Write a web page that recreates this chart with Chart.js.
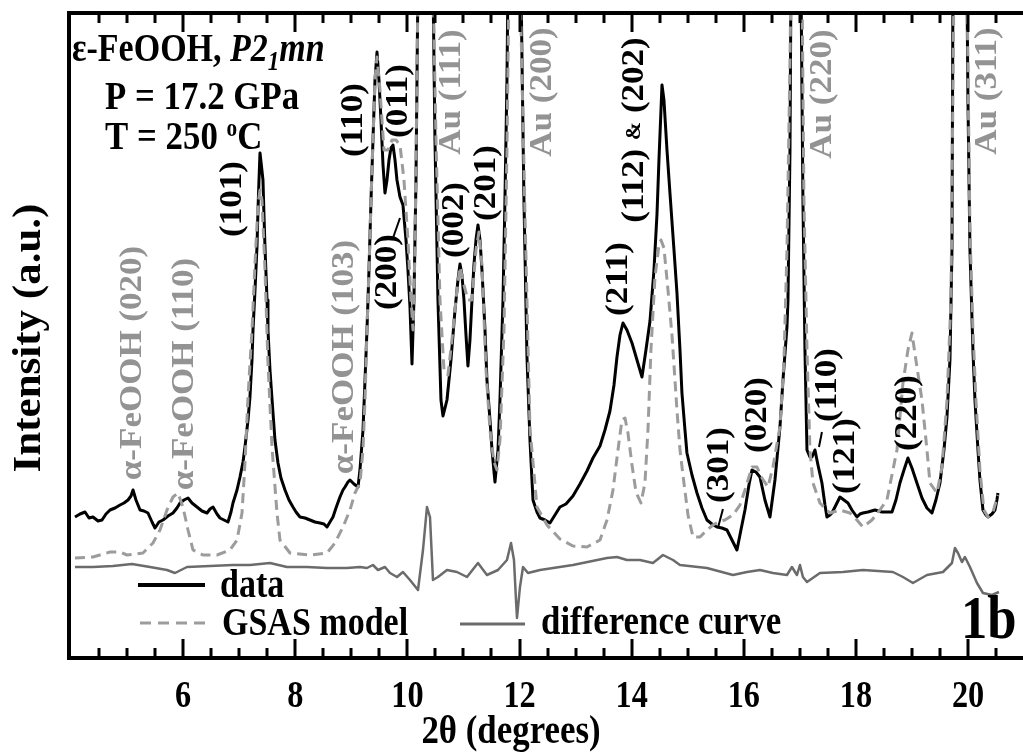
<!DOCTYPE html>
<html>
<head>
<meta charset="utf-8">
<script src="https://cdn.jsdelivr.net/npm/chart.js@4/dist/chart.umd.min.js"></script>
<style>
  html, body { margin: 0; padding: 0; background: #fff; overflow: hidden; }
  #c { display: block; }
</style>
</head>
<body>
<canvas id="c" width="1023" height="756" style="width:1023px;height:756px"></canvas>
<script>
// ── Data (2θ in degrees, intensity in arbitrary units) ──────────────────────
const dataTheta = [4.071,4.161,4.250,4.321,4.392,4.482,4.553,4.624,4.696,4.785,4.874,4.945,5.017,5.070,5.106,5.159,5.231,5.302,5.373,5.445,5.498,5.569,5.641,5.730,5.819,5.890,5.944,6.015,6.087,6.158,6.247,6.336,6.426,6.479,6.533,6.604,6.657,6.729,6.800,6.854,6.889,6.961,7.014,7.068,7.103,7.157,7.192,7.228,7.246,7.282,7.317,7.335,7.353,7.371,7.389,7.424,7.442,7.460,7.496,7.513,7.549,7.603,7.638,7.692,7.745,7.817,7.888,7.959,8.013,8.084,8.173,8.263,8.352,8.441,8.512,8.566,8.619,8.673,8.726,8.797,8.851,8.887,8.940,8.976,9.047,9.119,9.154,9.208,9.244,9.279,9.315,9.351,9.386,9.422,9.458,9.493,9.529,9.565,9.600,9.636,9.672,9.707,9.743,9.779,9.814,9.868,9.921,9.975,10.010,10.046,10.082,10.117,10.153,10.189,10.332,10.456,10.492,10.545,10.599,10.635,10.706,10.777,10.849,10.902,10.938,10.973,11.009,11.045,11.080,11.116,11.152,11.187,11.223,11.259,11.295,11.330,11.384,11.419,11.473,11.509,11.562,11.616,11.651,11.705,11.740,11.776,11.794,11.919,12.026,12.044,12.079,12.133,12.186,12.240,12.311,12.365,12.454,12.543,12.632,12.721,12.828,12.953,13.078,13.203,13.310,13.435,13.524,13.613,13.685,13.738,13.792,13.845,13.916,14.006,14.095,14.184,14.255,14.327,14.398,14.452,14.487,14.523,14.541,14.576,14.630,14.683,14.755,14.808,14.862,14.897,14.951,14.986,15.076,15.165,15.254,15.343,15.432,15.521,15.610,15.700,15.789,15.878,15.949,16.021,16.092,16.146,16.217,16.288,16.377,16.467,16.556,16.645,16.699,16.770,16.788,16.824,16.841,16.930,17.020,17.055,17.091,17.127,17.180,17.216,17.269,17.323,17.394,17.448,17.483,17.537,17.572,17.644,17.715,17.786,17.858,17.929,18.018,18.072,18.125,18.214,18.339,18.464,18.643,18.714,18.785,18.857,18.928,18.999,19.088,19.178,19.267,19.356,19.427,19.499,19.570,19.624,19.677,19.713,19.731,19.856,19.980,19.998,20.034,20.087,20.123,20.177,20.212,20.266,20.319,20.355,20.426,20.480,20.515,20.533];
const dataInt = [139,142,144,138,139,135,136,142,146,148,151,153,156,160,166,156,146,145,143,134,128,134,136,140,143,148,153,156,158,153,149,145,143,147,149,142,138,136,134,144,153,166,179,194,209,236,259,296,326,366,409,446,476,503,494,476,441,409,356,326,286,243,216,193,178,166,156,149,144,139,138,136,134,133,132,129,134,139,148,159,166,169,174,176,172,169,186,226,276,326,386,456,516,576,604,576,536,491,463,476,496,508,511,496,476,459,451,416,386,349,292,356,476,676,1100,676,516,356,256,240,256,296,346,376,392,381,356,321,290,316,356,391,416,431,416,386,326,276,236,206,174,206,256,356,456,576,676,1100,676,596,456,299,216,156,144,138,136,133,141,149,152,160,172,185,198,210,226,245,271,299,321,333,326,313,296,279,306,335,386,442,496,546,571,556,506,463,406,363,306,263,226,203,181,163,148,136,132,129,128,126,116,106,126,146,171,186,184,179,156,139,176,229,276,329,356,506,676,1100,676,456,306,206,199,199,206,191,173,151,139,141,143,151,159,156,153,146,139,142,143,144,146,144,144,156,173,186,198,188,173,158,148,143,156,173,206,239,296,406,676,1100,676,556,406,306,256,206,176,146,141,139,142,146,156,163];

const modelTheta = [4.071,4.392,4.696,4.874,4.999,5.284,5.462,5.587,5.712,5.819,5.908,5.997,6.087,6.176,6.354,6.604,6.836,6.961,7.050,7.103,7.157,7.228,7.282,7.335,7.371,7.406,7.460,7.513,7.585,7.674,7.727,7.906,8.263,8.566,8.708,8.851,8.976,9.065,9.154,9.208,9.244,9.279,9.315,9.351,9.386,9.422,9.458,9.511,9.582,9.654,9.725,9.796,9.868,9.939,10.010,10.064,10.100,10.135,10.171,10.189,10.332,10.456,10.510,10.581,10.653,10.724,10.813,10.884,10.938,11.009,11.080,11.152,11.223,11.277,11.330,11.402,11.473,11.544,11.598,11.651,11.723,11.776,11.812,11.919,12.008,12.062,12.097,12.186,12.311,12.490,12.721,12.953,13.203,13.435,13.560,13.667,13.756,13.827,13.881,13.934,14.006,14.077,14.166,14.237,14.291,14.344,14.416,14.487,14.523,14.576,14.648,14.719,14.808,14.862,14.915,15.005,15.094,15.219,15.343,15.450,15.539,15.664,15.807,15.932,16.021,16.146,16.235,16.324,16.431,16.520,16.645,16.717,16.770,16.824,16.841,16.930,17.038,17.073,17.127,17.180,17.234,17.358,17.537,17.715,17.894,18.018,18.125,18.286,18.428,18.553,18.660,18.732,18.839,18.928,18.999,19.088,19.178,19.267,19.321,19.445,19.535,19.624,19.695,19.749,19.856,19.980,20.034,20.087,20.141,20.212,20.283,20.355,20.444,20.533];
const modelInt = [98,99,104,104,101,103,113,126,146,159,163,149,126,106,101,101,106,116,143,193,259,326,393,451,466,456,386,293,209,143,116,103,101,103,113,129,146,163,173,206,256,326,386,456,516,576,599,566,506,506,516,516,511,476,416,356,326,406,576,676,1100,676,516,356,286,281,326,366,389,371,356,356,406,424,391,286,226,194,186,216,326,506,676,1100,676,536,442,228,149,131,117,110,109,116,136,166,206,236,238,223,191,164,153,173,226,306,379,411,416,408,366,321,246,206,181,141,119,119,126,131,134,136,141,151,166,189,189,178,169,189,229,296,406,596,676,1100,676,456,306,206,173,153,143,146,143,136,129,136,146,156,186,206,273,306,323,289,256,206,173,163,189,256,356,676,1100,676,426,326,256,186,146,139,144,161];

const diffTheta = [4.071,4.392,4.749,5.088,5.409,5.712,5.855,6.069,6.479,6.889,7.192,7.549,7.852,8.209,8.566,8.922,9.154,9.279,9.386,9.475,9.600,9.690,9.814,9.921,10.046,10.189,10.278,10.349,10.403,10.456,10.545,10.706,10.884,11.063,11.259,11.419,11.616,11.776,11.848,11.901,11.937,11.955,12.008,12.062,12.151,12.365,12.953,13.560,13.738,13.916,14.148,14.380,14.559,14.737,14.862,15.343,15.807,16.057,16.288,16.520,16.770,16.859,16.948,17.002,17.055,17.127,17.358,17.768,18.125,18.660,18.839,19.017,19.267,19.553,19.713,19.766,19.820,19.891,19.945,20.034,20.159,20.266,20.426,20.551];
const diffInt = [89,89,90,92,89,86,83,89,90,91,91,93,89,89,88,88,89,88,91,86,89,83,79,84,76,66,106,149,139,76,79,86,84,79,93,81,86,96,113,96,56,38,69,89,83,86,91,98,99,96,96,93,101,96,91,88,81,84,86,83,81,89,81,91,79,74,83,84,86,84,79,73,81,84,93,108,103,94,99,89,73,63,61,64];

const xTickLabels = [6, 8, 10, 12, 14, 16, 18, 20];
const xMinorStep = 0.5;

// peak labels: text, 2θ, intensity, phase
const peakLabels = [
  ['(101)', 6.889, 457, 'e'],
  ['(110)', 9.047, 536, 'e'],
  ['(011)', 9.850, 555, 'e'],
  ['(200)', 9.654, 384, 'e'],
  ['(002)', 10.849, 436, 'e'],
  ['(201)', 11.419, 473, 'e'],
  ['(211)', 13.774, 377, 'e'],
  ['(301)', 15.575, 191, 'e'],
  ['(020)', 16.252, 241, 'e'],
  ['(110)', 17.501, 271, 'e'],
  ['(121)', 17.822, 200, 'e'],
  ['(220)', 18.928, 243, 'e'],
  ['Au (111)', 10.795, 564, 'Au'],
  ['Au (200)', 12.418, 564, 'Au'],
  ['Au (220)', 17.412, 562, 'Au'],
  ['Au (311)', 20.355, 565, 'Au'],
  ['α-FeOOH (020)', 5.106, 293, 'a'],
  ['α-FeOOH (110)', 6.033, 282, 'a'],
  ['α-FeOOH (103)', 8.887, 299, 'a'],
];
// short leader lines from label to peak: [2θ1, I1, 2θ2, I2]
const leaders = [
  [9.743, 418, 9.868, 438],
  [15.628, 147, 15.539, 128],
  [17.394, 224, 17.341, 209],
];

// ── Text helpers ────────────────────────────────────────────────────────────
const SERIF = '"Liberation Serif", "Times New Roman", serif';
const SQ_H = 0.85;       // the original figure is squeezed horizontally
const SQ_R = 0.92;
const GRAY_TXT = '#939393';

function fontOf(p) {
  return `${p.i ? 'italic ' : ''}bold ${p.s}px ${SERIF}`;
}

function rich(ctx, parts, x, y, o = {}) {
  ctx.save();
  ctx.translate(x, y);
  if (o.rot) { ctx.rotate(-Math.PI / 2); ctx.scale(1, SQ_R); }
  else ctx.scale(SQ_H, 1);
  ctx.fillStyle = o.color || '#000';
  ctx.textBaseline = o.baseline || 'alphabetic';
  ctx.textAlign = 'left';
  let w = 0;
  for (const p of parts) { ctx.font = fontOf(p); w += ctx.measureText(p.t).width; }
  let cx = o.align === 'center' ? -w / 2 : 0;
  for (const p of parts) {
    ctx.font = fontOf(p);
    ctx.fillText(p.t, cx, p.dy || 0);
    cx += ctx.measureText(p.t).width;
  }
  ctx.restore();
}

// ── Frame, ticks, labels and legend ─────────────────────────────────────────
const framePlugin = {
  id: 'frame',
  afterDatasetsDraw(chart) {
    const { ctx, chartArea: a, scales: { x, y } } = chart;
    const L = a.left - 2, T = a.top, B = a.bottom + 2, R = chart.width + 5;

    ctx.save();
    ctx.strokeStyle = '#000';
    ctx.lineWidth = 4;
    ctx.lineCap = 'butt';
    ctx.beginPath();
    ctx.moveTo(R, T); ctx.lineTo(L, T); ctx.lineTo(L, B); ctx.lineTo(R, B);
    ctx.stroke();

    // inward ticks, top and bottom
    ctx.lineWidth = 3;
    for (let v = x.min + xMinorStep; v < x.max; v += xMinorStep) {
      const px = Math.round(x.getPixelForValue(v));
      const major = xTickLabels.includes(Math.round(v * 100) / 100);
      const len = major ? 19 : 10;
      ctx.beginPath();
      ctx.moveTo(px, T); ctx.lineTo(px, T + len);
      ctx.moveTo(px, B); ctx.lineTo(px, B - len);
      ctx.stroke();
    }
    ctx.restore();

    // tick labels
    for (const t of xTickLabels) {
      rich(ctx, [{ t: String(t), s: 38 }], x.getPixelForValue(t), 707, { align: 'center' });
    }
    // axis titles
    rich(ctx, [{ t: '2θ (degrees)', s: 41 }], 511, 743, { align: 'center' });
    rich(ctx, [{ t: 'Intensity (a.u.)', s: 43 }], 30, 338, { rot: true, align: 'center', baseline: 'middle' });

    // sample info
    rich(ctx, [{ t: 'ε-FeOOH, ', s: 40 }, { t: 'P2', s: 40, i: 1 }, { t: '1', s: 27, i: 1, dy: 9 }, { t: 'mn', s: 40, i: 1 }], 72, 61);
    rich(ctx, [{ t: 'P = 17.2 GPa', s: 41 }], 105, 109);
    rich(ctx, [{ t: 'T = 250 ', s: 41 }, { t: 'o', s: 25, dy: -13 }, { t: 'C', s: 41 }], 105, 149);

    // peak labels
    for (const [txt, th, inten, phase] of peakLabels) {
      rich(ctx, [{ t: txt, s: 35 }], x.getPixelForValue(th), y.getPixelForValue(inten),
        { rot: true, align: 'center', baseline: 'middle', color: phase === 'e' ? '#000' : GRAY_TXT });
    }
    rich(ctx, [{ t: '(112) ', s: 35 }, { t: '&', s: 22 }, { t: ' (202)', s: 35 }],
      x.getPixelForValue(14.059), y.getPixelForValue(526), { rot: true, align: 'center', baseline: 'middle' });

    ctx.save();
    ctx.strokeStyle = '#000';
    ctx.lineWidth = 2;
    for (const [t1, i1, t2, i2] of leaders) {
      ctx.beginPath();
      ctx.moveTo(x.getPixelForValue(t1), y.getPixelForValue(i1));
      ctx.lineTo(x.getPixelForValue(t2), y.getPixelForValue(i2));
      ctx.stroke();
    }

    // legend
    ctx.lineWidth = 4;
    ctx.strokeStyle = '#000';
    ctx.beginPath(); ctx.moveTo(138, 585); ctx.lineTo(205, 585); ctx.stroke();
    ctx.lineWidth = 3;
    ctx.strokeStyle = '#9c9c9c';
    ctx.setLineDash([11, 7]);
    ctx.beginPath(); ctx.moveTo(140, 623); ctx.lineTo(205, 623); ctx.stroke();
    ctx.setLineDash([]);
    ctx.strokeStyle = '#6b6b6b';
    ctx.beginPath(); ctx.moveTo(460, 624); ctx.lineTo(525, 624); ctx.stroke();
    ctx.restore();
    rich(ctx, [{ t: 'data', s: 40 }], 220, 597);
    rich(ctx, [{ t: 'GSAS model', s: 40 }], 222, 635);
    rich(ctx, [{ t: 'difference curve', s: 41 }], 541, 634);
    rich(ctx, [{ t: '1b', s: 62 }], 961, 638);
  }
};

// ── Chart ───────────────────────────────────────────────────────────────────
const pts = (xs, ys) => xs.map((v, i) => ({ x: v, y: ys[i] }));

new Chart(document.getElementById('c'), {
  type: 'line',
  data: {
    datasets: [
      { label: 'GSAS model', data: pts(modelTheta, modelInt), borderColor: '#9c9c9c',
        borderWidth: 3, borderDash: [10, 6], order: 0 },
      { label: 'data', data: pts(dataTheta, dataInt), borderColor: '#000',
        borderWidth: 3, order: 1 },
      { label: 'difference curve', data: pts(diffTheta, diffInt), borderColor: '#6b6b6b',
        borderWidth: 2.5, order: 2 },
    ]
  },
  options: {
    responsive: false,
    animation: false,
    events: [],
    layout: { padding: { left: 71, top: 13, right: 0, bottom: 100 } },
    elements: {
      point: { radius: 0 },
      line: { tension: 0, borderJoinStyle: 'round', fill: false }
    },
    plugins: { legend: { display: false }, tooltip: { enabled: false } },
    scales: {
      x: { type: 'linear', min: 4, max: 20.98, display: false },
      y: { min: 0, max: 643, display: false }
    }
  },
  plugins: [framePlugin]
});
</script>
</body>
</html>
